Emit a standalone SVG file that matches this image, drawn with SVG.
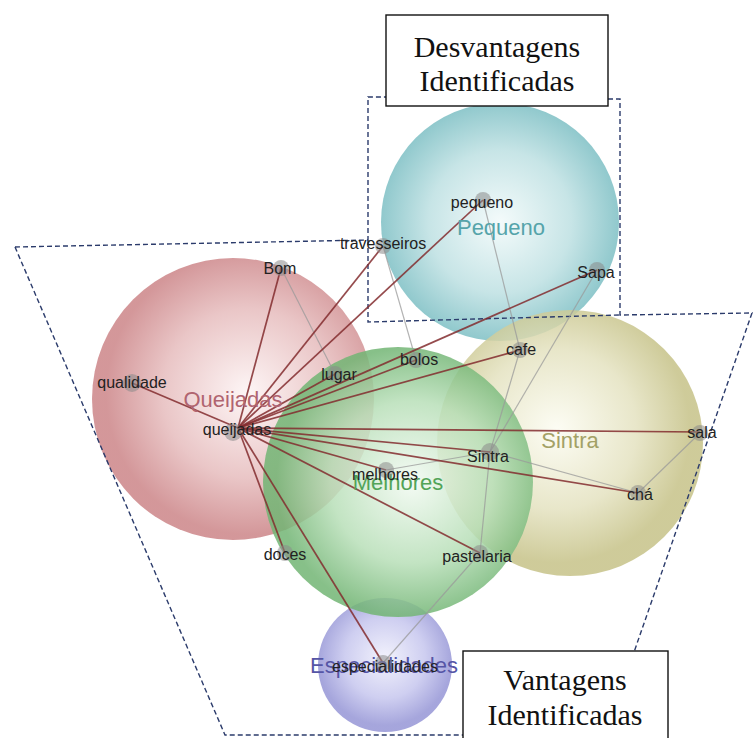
<svg xmlns="http://www.w3.org/2000/svg" width="754" height="738" viewBox="0 0 754 738">
<defs>
<radialGradient id="gP" cx="50%" cy="50%" r="50%"><stop offset="0%" stop-color="#f2fafa"/><stop offset="60%" stop-color="#bde0e2"/><stop offset="100%" stop-color="#7dbfc4"/></radialGradient>
<radialGradient id="gQ" cx="55%" cy="48%" r="50%"><stop offset="0%" stop-color="#fdf4f4"/><stop offset="60%" stop-color="#e6bcbd"/><stop offset="100%" stop-color="#cc8588"/></radialGradient>
<radialGradient id="gS" cx="45%" cy="45%" r="50%"><stop offset="0%" stop-color="#fcfcf2"/><stop offset="60%" stop-color="#e4e2c0"/><stop offset="100%" stop-color="#c6c288"/></radialGradient>
<radialGradient id="gM" cx="55%" cy="50%" r="50%"><stop offset="0%" stop-color="#f2faf2"/><stop offset="60%" stop-color="#b8dfb8"/><stop offset="100%" stop-color="#72b574"/></radialGradient>
<radialGradient id="gE" cx="50%" cy="45%" r="50%"><stop offset="0%" stop-color="#f0f0fc"/><stop offset="60%" stop-color="#c6c6ee"/><stop offset="100%" stop-color="#9696d6"/></radialGradient>
</defs>
<style>
.cl{fill-opacity:0.85}
.ct{font-family:"Liberation Sans",Arial,sans-serif;font-size:22px;text-anchor:middle}
.lb{font-family:"Liberation Sans",Arial,sans-serif;font-size:16px;fill:#222;text-anchor:middle}
.nd{fill:#8a8a8a;fill-opacity:0.55}
.re{stroke:#822c2e;stroke-width:1.7;stroke-opacity:0.85;fill:none}
.ge{stroke:#9a9a9a;stroke-width:1.2;stroke-opacity:0.75;fill:none}
.ds{stroke:#2b3b6b;stroke-width:1.4;stroke-dasharray:5 3;fill:none}
.bx{fill:#fff;stroke:#111;stroke-width:1.4}
.bt{font-family:"Liberation Serif","Times New Roman",serif;font-size:30px;fill:#111;text-anchor:middle}
</style>
<g id="clusters">
<circle class="cl" cx="500" cy="222" r="119" fill="url(#gP)"/>
<circle class="cl" cx="233" cy="399" r="141" fill="url(#gQ)"/>
<circle class="cl" cx="570" cy="443" r="133" fill="url(#gS)"/>
<circle class="cl" cx="385" cy="665" r="67" fill="url(#gE)"/>
<circle class="cl" cx="398" cy="482" r="135" fill="url(#gM)" fill-opacity="0.75"/>
</g>
<g id="regions">
<path class="ds" d="M15,247 L368,240 L368,97 L386,97"/>
<path class="ds" d="M608,99 L620,99 L620,315 L752,313 L633,655"/>
<path class="ds" d="M368,240 L368,322 L620,315"/>
<path class="ds" d="M15,247 L225,735 L463,735"/>
</g>
<g id="connectors">
<path class="ge" d="M281,268 L335,374"/>
<path class="ge" d="M383,246 L416,360"/>
<path class="ge" d="M483,200 L520,350"/>
<path class="ge" d="M597,270 L490,452"/>
<path class="ge" d="M520,350 L490,452 L480,553 L383,663"/>
<path class="ge" d="M386,470 L490,452"/>
<path class="ge" d="M490,452 L638,493"/>
<path class="ge" d="M700,433 L638,493"/>
<path class="re" d="M238,428 L132,383"/>
<path class="re" d="M238,428 L281,268"/>
<path class="re" d="M238,428 L383,246"/>
<path class="re" d="M238,428 L483,200"/>
<path class="re" d="M238,428 L597,270"/>
<path class="re" d="M238,428 L335,374"/>
<path class="re" d="M238,428 L416,360"/>
<path class="re" d="M238,428 L520,350"/>
<path class="re" d="M238,428 L700,432"/>
<path class="re" d="M238,428 L490,452"/>
<path class="re" d="M238,428 L638,493"/>
<path class="re" d="M238,428 L386,470"/>
<path class="re" d="M238,428 L480,553"/>
<path class="re" d="M238,428 L285,553"/>
<path class="re" d="M238,428 L383,663"/>
</g>
<g id="cluster-labels">
<text class="ct" x="233" y="407" fill="#b06470">Queijadas</text>
<text class="ct" x="501" y="235" fill="#55a4aa">Pequeno</text>
<text class="ct" x="570" y="448" fill="#a3a166">Sintra</text>
<text class="ct" x="398" y="490" fill="#52a458">Melhores</text>
<text class="ct" x="384" y="673" fill="#5555a6">Especialidades</text>
</g>
<g id="node-queijadas"><circle class="nd" cx="233" cy="432" r="9"/><text class="lb" x="237" y="435">queijadas</text></g>
<g id="node-qualidade"><circle class="nd" cx="132" cy="383" r="9"/><text class="lb" x="132" y="388">qualidade</text></g>
<g id="node-bom"><circle class="nd" cx="281" cy="268" r="8"/><text class="lb" x="280" y="274">Bom</text></g>
<g id="node-travesseiros"><circle class="nd" cx="383" cy="246" r="8"/><text class="lb" x="383" y="249">travesseiros</text></g>
<g id="node-pequeno"><circle class="nd" cx="483" cy="200" r="8"/><text class="lb" x="482" y="208">pequeno</text></g>
<g id="node-sapa"><circle class="nd" cx="597" cy="270" r="8"/><text class="lb" x="596" y="278">Sapa</text></g>
<g id="node-lugar"><circle class="nd" cx="335" cy="374" r="8"/><text class="lb" x="339" y="380">lugar</text></g>
<g id="node-bolos"><circle class="nd" cx="416" cy="360" r="8"/><text class="lb" x="419" y="365">bolos</text></g>
<g id="node-cafe"><circle class="nd" cx="520" cy="350" r="8"/><text class="lb" x="521" y="355">cafe</text></g>
<g id="node-melhores"><circle class="nd" cx="386" cy="470" r="8"/><text class="lb" x="385" y="480">melhores</text></g>
<g id="node-sintra"><circle class="nd" cx="490" cy="452" r="9"/><text class="lb" x="488" y="462">Sintra</text></g>
<g id="node-sala"><circle class="nd" cx="700" cy="433" r="8"/><text class="lb" x="702" y="438">sala</text></g>
<g id="node-cha"><circle class="nd" cx="638" cy="493" r="8"/><text class="lb" x="640" y="500">chá</text></g>
<g id="node-pastelaria"><circle class="nd" cx="480" cy="553" r="8"/><text class="lb" x="477" y="562">pastelaria</text></g>
<g id="node-doces"><circle class="nd" cx="285" cy="553" r="8"/><text class="lb" x="285" y="560">doces</text></g>
<g id="node-especialidades"><circle class="nd" cx="383" cy="663" r="8"/><text class="lb" x="385" y="672">especialidades</text></g>
<g id="box-desvantagens">
<rect class="bx" x="386" y="15" width="222" height="91"/>
<text class="bt" x="497" y="57">Desvantagens</text>
<text class="bt" x="497" y="91">Identificadas</text>
</g>
<g id="box-vantagens">
<rect class="bx" x="463" y="651" width="205" height="100"/>
<text class="bt" x="565" y="690">Vantagens</text>
<text class="bt" x="565" y="725">Identificadas</text>
</g>
</svg>
